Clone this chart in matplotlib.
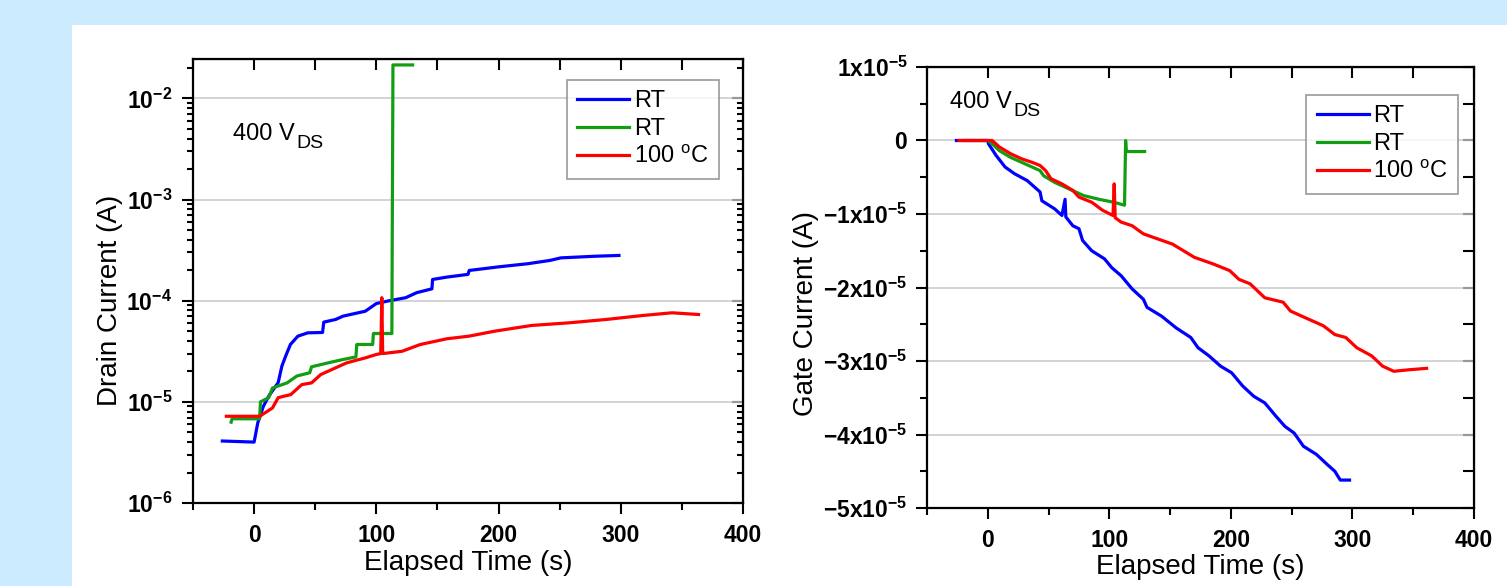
import matplotlib
matplotlib.use("Agg")
import matplotlib.pyplot as plt
from matplotlib.patches import Rectangle
from matplotlib.ticker import FixedLocator, NullFormatter, FixedFormatter, LogLocator

plt.rcParams['font.family'] = ['Liberation Sans', 'DejaVu Sans']
plt.rcParams['mathtext.fontset'] = 'custom'
plt.rcParams['mathtext.rm'] = 'Liberation Sans'
plt.rcParams['mathtext.bf'] = 'Liberation Sans:bold'
plt.rcParams['mathtext.it'] = 'Liberation Sans:italic'

# ---------------- data: drain current (left) ----------------
blue_t_L = [-26, 0, 3, 7.6, 12, 19.7, 22.7, 25.8, 29.7, 35.8, 43.9, 56, 57, 66.7, 72.7, 91, 100,
            109, 124, 133, 145.5, 146, 157.6, 175, 176, 200, 224, 242, 251, 279, 298.5]
blue_I_L = [4.1e-6, 4.0e-6, 6.2e-6, 9.05e-6, 1.14e-5, 1.55e-5, 2.25e-5, 2.83e-5, 3.69e-5, 4.46e-5,
            4.81e-5, 4.85e-5, 6.14e-5, 6.52e-5, 7.03e-5, 7.87e-5, 9.37e-5, 9.9e-5, 1.07e-4, 1.2e-4,
            1.31e-4, 1.62e-4, 1.71e-4, 1.82e-4, 1.99e-4, 2.16e-4, 2.32e-4, 2.5e-4, 2.65e-4, 2.75e-4, 2.8e-4]

green_t_L = [-18.8, -18, 4.5, 5.2, 12, 15, 27, 35, 45.5, 47, 60.6, 72.7, 83.3, 84, 97, 97.6,
             112.7, 113.6, 129.7]
green_I_L = [6.3e-6, 6.8e-6, 6.8e-6, 1.0e-5, 1.1e-5, 1.37e-5, 1.54e-5, 1.8e-5, 1.94e-5, 2.22e-5,
             2.43e-5, 2.62e-5, 2.78e-5, 3.69e-5, 3.69e-5, 4.74e-5, 4.74e-5, 2.14e-2, 2.14e-2]

red_t_L = [-22.7, 4.5, 9, 15, 19.7, 30, 39, 47, 54.5, 66.7, 75.8, 91, 100, 103.6, 104.5, 105.2,
           121, 136, 157.6, 175.8, 197, 227, 257.6, 288, 318, 342, 363.6]
red_I_L = [7.2e-6, 7.2e-6, 7.8e-6, 8.7e-6, 1.1e-5, 1.18e-5, 1.48e-5, 1.54e-5, 1.86e-5, 2.17e-5,
           2.43e-5, 2.72e-5, 2.94e-5, 3.0e-5, 1.07e-4, 3.0e-5, 3.16e-5, 3.69e-5, 4.2e-5, 4.46e-5,
           5.0e-5, 5.69e-5, 6.04e-5, 6.52e-5, 7.14e-5, 7.59e-5, 7.3e-5]

# ---------------- data: gate current (right), in units of 1e-5 A ----------------
GATE_UNIT = 1e-5
blue_t_R = [-25.8, 0, 0.6, 6.7, 14.2, 21.8, 32.4, 43, 44.5, 55, 61, 63.6, 64.2, 70, 75, 78, 85.5,
            96, 102, 109.7, 118.8, 128, 131, 143, 155, 167, 173, 182, 191.5, 200.6, 209.7, 218.8,
            227.9, 237, 244.5, 252, 259.7, 270.3, 279.4, 285.5, 290, 297.6]
blue_I_R = [0, 0, -0.045, -0.2, -0.36, -0.45, -0.545, -0.7, -0.82, -0.93, -1.02, -0.80, -1.04,
            -1.16, -1.2, -1.36, -1.5, -1.61, -1.73, -1.84, -2.02, -2.16, -2.27, -2.39, -2.55, -2.68,
            -2.82, -2.93, -3.07, -3.16, -3.34, -3.48, -3.57, -3.75, -3.89, -3.98, -4.16, -4.27,
            -4.41, -4.5, -4.62, -4.62]

green_t_R = [-19, 0, 3.6, 9.7, 18.8, 31, 43, 46, 55, 67, 79, 91.5, 103.6, 112.5, 113.4, 114, 129]
green_I_R = [0, 0, -0.045, -0.14, -0.23, -0.32, -0.41, -0.48, -0.57, -0.66, -0.75, -0.80, -0.84,
             -0.88, 0, -0.15, -0.15]

red_t_R = [-23.6, 3.6, 9.7, 18.8, 28, 37, 43, 47.6, 52, 61, 70, 75, 85.5, 94.5, 103, 104, 104.8,
           109.7, 118.8, 128, 140, 152, 161, 170, 185.5, 199, 206.7, 215.8, 227.9, 243, 249, 261,
           276, 285.5, 294.5, 303.6, 315.8, 324.8, 334, 346, 361]
red_I_R = [0, 0, -0.09, -0.18, -0.25, -0.3, -0.34, -0.41, -0.52, -0.59, -0.68, -0.77, -0.84, -0.95,
           -1.02, -0.59, -1.05, -1.11, -1.16, -1.27, -1.34, -1.41, -1.5, -1.59, -1.68, -1.77, -1.89,
           -1.95, -2.14, -2.2, -2.32, -2.41, -2.52, -2.64, -2.68, -2.82, -2.93, -3.07, -3.14, -3.12,
           -3.10]

legend_labels = ['RT', 'RT', r'100 $^{\mathregular{o}}$C']
x_major = [0, 100, 200, 300, 400]
x_minor = [-50, 50, 150, 250, 350]
left_yticks = [1e-6, 1e-5, 1e-4, 1e-3, 1e-2]
left_ylabels = [r'$\mathbf{10^{-6}}$', r'$\mathbf{10^{-5}}$', r'$\mathbf{10^{-4}}$',
                r'$\mathbf{10^{-3}}$', r'$\mathbf{10^{-2}}$']
right_yticks = [-5e-5, -4e-5, -3e-5, -2e-5, -1e-5, 0, 1e-5]
right_ylabels = [r'$\mathbf{-5x10^{-5}}$', r'$\mathbf{-4x10^{-5}}$', r'$\mathbf{-3x10^{-5}}$',
                 r'$\mathbf{-2x10^{-5}}$', r'$\mathbf{-1x10^{-5}}$', r'$\mathbf{0}$',
                 r'$\mathbf{1x10^{-5}}$']
right_yminor = [-4.5e-5, -3.5e-5, -2.5e-5, -1.5e-5, -0.5e-5, 0.5e-5]

BLUE = '#0000FF'
GREEN = '#129E12'
RED = '#FF0000'
LW = 2.3
W, H = 1507, 586

fig = plt.figure(figsize=(W / 100, H / 100), dpi=100)
fig.patch.set_facecolor('#CCEBFF')
fig.add_artist(Rectangle((72 / W, 0), 1, (H - 25) / H, transform=fig.transFigure,
                         facecolor='white', edgecolor='none', zorder=-10))

axL = fig.add_axes([193 / W, 1 - 503 / H, (743 - 193) / W, (503 - 59) / H])
axR = fig.add_axes([927 / W, 1 - 508 / H, (1474 - 927) / W, (508 - 67) / H])

TICKFS = 16.5
LABELFS = 20
LEGFS = 17
ANNFS = 17
SUBFS = 14


def style_common(ax):
    for s in ax.spines.values():
        s.set_linewidth(1.6)
        s.set_color('black')
    ax.set_xlim(-50, 400)
    ax.xaxis.set_major_locator(FixedLocator(x_major))
    ax.xaxis.set_minor_locator(FixedLocator(x_minor))
    ax.set_xticklabels([str(v) for v in x_major], fontsize=TICKFS, fontweight='bold')
    ax.tick_params(which='major', direction='out', length=8, width=1.5, pad=7, labelsize=TICKFS)
    ax.tick_params(which='minor', direction='out', length=5, width=1.5)
    ax.set_xlabel('Elapsed Time (s)', fontsize=LABELFS)
    ax.grid(axis='y', which='major', color='#C8C8C8', lw=1.1)
    ax.set_axisbelow(True)
    top = ax.secondary_xaxis('top')
    top.xaxis.set_major_locator(FixedLocator(x_major))
    top.xaxis.set_minor_locator(FixedLocator(x_minor))
    top.tick_params(which='both', direction='in', length=8, width=1.5, labeltop=False)
    top.tick_params(which='minor', length=8)
    return top


def make_legend(ax, anchor):
    leg = ax.legend(loc='upper right', bbox_to_anchor=anchor, borderaxespad=0,
                    fontsize=LEGFS, frameon=True, fancybox=False, edgecolor='#808080',
                    handlelength=2.2, handletextpad=0.2, labelspacing=0.25, borderpad=0.45)
    leg.get_frame().set_linewidth(1.2)
    return leg


def vds_label(ax, x, y):
    t = ax.text(x, y, '400 V', transform=ax.transAxes, fontsize=ANNFS, va='baseline')
    ax.annotate('DS', xy=(1, 0), xycoords=t, xytext=(1, -2.2), textcoords='offset points',
                fontsize=SUBFS, va='baseline', ha='left')


# ---- left: drain current ----
style_common(axL)
axL.set_yscale('log')
axL.set_ylim(1e-6, 2.45e-2)
axL.plot(blue_t_L, blue_I_L, color=BLUE, lw=LW, label=legend_labels[0])
axL.plot(green_t_L, green_I_L, color=GREEN, lw=LW, label=legend_labels[1])
axL.plot(red_t_L, red_I_L, color=RED, lw=LW, label=legend_labels[2])
axL.yaxis.set_major_locator(FixedLocator(left_yticks))
axL.yaxis.set_major_formatter(FixedFormatter(left_ylabels))
axL.yaxis.set_minor_locator(LogLocator(base=10, subs=range(2, 10)))
axL.yaxis.set_minor_formatter(NullFormatter())
axL.tick_params(axis='y', which='major', labelsize=TICKFS)
axL.tick_params(axis='y', which='minor', length=4)
rL = axL.secondary_yaxis('right')
rL.yaxis.set_major_locator(FixedLocator(left_yticks))
rL.yaxis.set_minor_locator(LogLocator(base=10, subs=range(2, 10)))
rL.yaxis.set_minor_formatter(NullFormatter())
rL.tick_params(which='major', direction='in', length=8, width=1.5, labelright=False)
rL.tick_params(which='minor', direction='in', length=4, width=1.5)
axL.set_ylabel('Drain Current (A)', fontsize=LABELFS)
axL.yaxis.set_label_coords(-0.127, 0.457)
axL.xaxis.set_label_coords(0.5, -0.105)
vds_label(axL, 0.073, 0.818)
make_legend(axL, (0.956, 0.953))

# ---- right: gate current ----
style_common(axR)
axR.set_ylim(-5e-5, 1e-5)
axR.plot(blue_t_R, [v * GATE_UNIT for v in blue_I_R], color=BLUE, lw=LW, label=legend_labels[0])
axR.plot(green_t_R, [v * GATE_UNIT for v in green_I_R], color=GREEN, lw=LW, label=legend_labels[1])
axR.plot(red_t_R, [v * GATE_UNIT for v in red_I_R], color=RED, lw=LW, label=legend_labels[2])
axR.yaxis.set_major_locator(FixedLocator(right_yticks))
axR.yaxis.set_major_formatter(FixedFormatter(right_ylabels))
axR.yaxis.set_minor_locator(FixedLocator(right_yminor))
axR.tick_params(axis='y', which='major', labelsize=TICKFS, pad=6)
rR = axR.secondary_yaxis('right')
rR.yaxis.set_major_locator(FixedLocator(right_yticks))
rR.yaxis.set_minor_locator(FixedLocator(right_yminor))
rR.tick_params(which='both', direction='in', length=8, width=1.5, labelright=False)
axR.set_ylabel('Gate Current (A)', fontsize=LABELFS)
axR.yaxis.set_label_coords(-0.197, 0.442)
axR.xaxis.set_label_coords(0.5, -0.105)
vds_label(axR, 0.042, 0.907)
make_legend(axR, (0.971, 0.937))

fig.savefig('out.png', dpi=100, facecolor=fig.get_facecolor())
